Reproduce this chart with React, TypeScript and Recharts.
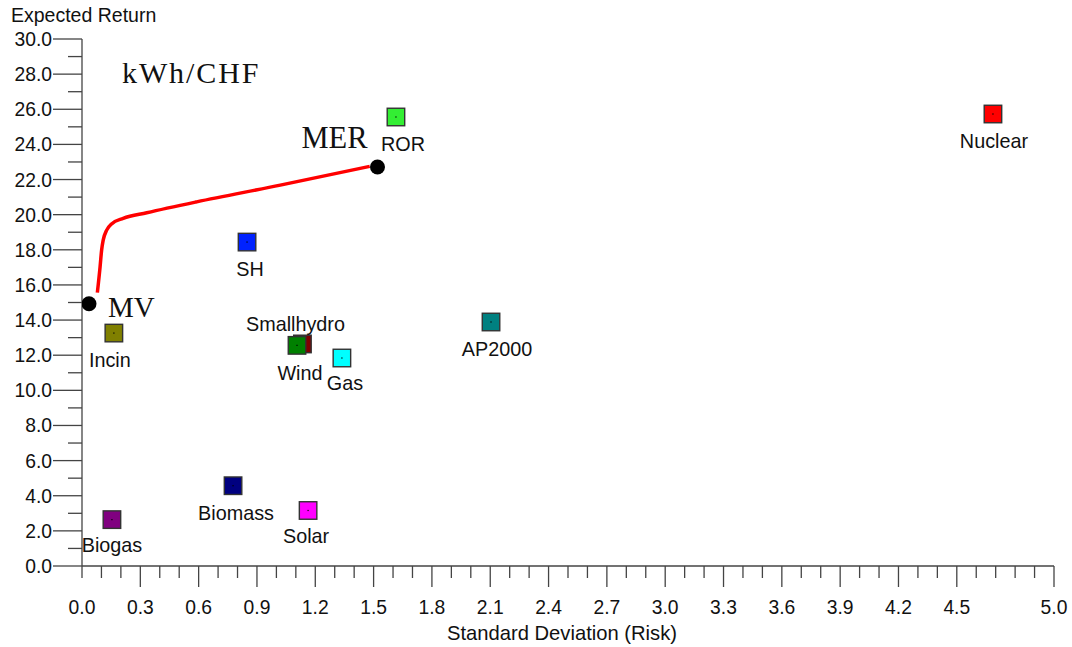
import { Scatter, ScatterChart, XAxis, YAxis } from "recharts"

// Technologies (Smallhydro listed before Wind so it sits behind it)
const assets = ["Smallhydro", "Wind", "ROR", "Nuclear", "AP2000", "SH", "Incin", "Gas", "Biomass", "Solar", "Biogas"]
const assetRisk = [1.134, 1.106, 1.615, 4.686, 2.104, 0.849, 0.164, 1.337, 0.777, 1.163, 0.154]
const assetReturn = [12.64, 12.56, 25.56, 25.73, 13.89, 18.44, 13.26, 11.84, 4.57, 3.16, 2.64]
const assetColors = ["#800000", "#008000", "#33ee33", "#ff0000", "#008080", "#0022ff", "#808000", "#00ffff", "#000080", "#ff00ff", "#800080"]

// Efficient frontier
const frontierRisk = [0.079, 0.093, 0.101, 0.109, 0.127, 0.152, 0.212, 0.333, 0.59, 1.02, 1.48]
const frontierReturn = [15.56, 17.03, 17.99, 18.55, 19.12, 19.47, 19.79, 20.11, 20.73, 21.68, 22.75]

// Minimum variance / maximum expected return portfolios
const portfolios = ["MV", "MER"]
const portfolioRisk = [0.036, 1.52]
const portfolioReturn = [14.93, 22.71]

const xTickLabels = ["0.0", "0.3", "0.6", "0.9", "1.2", "1.5", "1.8", "2.1", "2.4", "2.7", "3.0", "3.3", "3.6", "3.9", "4.2", "4.5", "5.0"]
const yTickLabels = ["0.0", "2.0", "4.0", "6.0", "8.0", "10.0", "12.0", "14.0", "16.0", "18.0", "20.0", "22.0", "24.0", "26.0", "28.0", "30.0"]

const assetData = assets.map((name, i) => ({ name, x: assetRisk[i], y: assetReturn[i], color: assetColors[i] }))
const frontierData = frontierRisk.map((x, i) => ({ x, y: frontierReturn[i] }))
const portfolioData = portfolios.map((name, i) => ({ name, x: portfolioRisk[i], y: portfolioReturn[i] }))

// minor ticks every 0.1 on x, every 1 on y
const xTicks = Array.from({ length: 51 }, (_, i) => i / 10)
const yTicks = Array.from({ length: 31 }, (_, i) => i)

const SANS = "'Liberation Sans', Arial, sans-serif"
const SERIF = "'Liberation Serif', 'Times New Roman', serif"
const AXIS = "#444"

// label nudges so text sits like in the original
const labelShift: Record<string, [number, number]> = {
  Smallhydro: [-7, -13],
  ROR: [7, 34],
  Nuclear: [1, 34],
  AP2000: [6, 34],
  SH: [3, 34],
  Incin: [-4, 34],
  Wind: [3, 35],
  Gas: [3, 32],
  Biomass: [3, 34],
  Solar: [-2, 33],
  Biogas: [0, 32],
}

const XTick = (props) => {
  const { x, y, payload } = props
  const label = Number(payload.value).toFixed(1)
  const major = xTickLabels.includes(label)
  const len = major && payload.value > 0 ? 21 : 12
  return (
    <g>
      <line x1={x} x2={x} y1={y} y2={y + len} stroke={AXIS} strokeWidth={1.3} />
      {major && (
        <text x={x} y={y + 48} textAnchor="middle" fontSize={19.3} fontFamily={SANS} fill="#111">
          {label}
        </text>
      )}
    </g>
  )
}

const YTick = (props) => {
  const { x, y, payload } = props
  const label = Number(payload.value).toFixed(1)
  const major = yTickLabels.includes(label)
  const len = major ? 29 : 14
  return (
    <g>
      <line x1={x - len} x2={x} y1={y} y2={y} stroke={AXIS} strokeWidth={1.3} />
      {major && (
        <text x={x - 30} y={y + 7} textAnchor="end" fontSize={19.3} fontFamily={SANS} fill="#111">
          {label}
        </text>
      )}
    </g>
  )
}

const AssetShape = (props) => {
  const { cx, cy, payload } = props
  const s = 17.5
  const [dx, dy] = labelShift[payload.name] || [0, 34]
  return (
    <g>
      <rect x={cx - s / 2} y={cy - s / 2} width={s} height={s} fill={payload.color} stroke="#333" strokeWidth={1.4} />
      <rect x={cx - 0.6} y={cy - 0.6} width={1.2} height={1.2} fill="#000" />
      <text x={cx + dx} y={cy + dy} textAnchor="middle" fontSize={19.8} fontFamily={SANS} fill="#111">
        {payload.name}
      </text>
    </g>
  )
}

const PortfolioShape = (props) => {
  const { cx, cy, payload } = props
  const isMV = payload.name === "MV"
  return (
    <g>
      <circle cx={cx} cy={cy} r={7.5} fill="#000" />
      <text
        x={isMV ? cx + 19 : cx - 10}
        y={isMV ? cy + 13 : cy - 19}
        textAnchor={isMV ? "start" : "end"}
        fontSize={isMV ? 29 : 30.5}
        fontFamily={SERIF}
        fill="#111"
      >
        {payload.name}
      </text>
    </g>
  )
}

export default function App() {
  return (
    <div style={{ position: "absolute", left: 0, top: 0, width: 1072, height: 647, background: "#fff" }}>
      <ScatterChart width={1072} height={647} margin={{ top: 39, right: 18, bottom: 0, left: 0 }}>
        <XAxis
          type="number"
          dataKey="x"
          domain={[0, 5]}
          ticks={xTicks}
          interval={0}
          height={81}
          tickSize={0}
          tickMargin={0}
          tickLine={false}
          tick={<XTick />}
          axisLine={{ stroke: AXIS, strokeWidth: 1.3 }}
          allowDataOverflow
        />
        <YAxis
          type="number"
          dataKey="y"
          domain={[0, 30]}
          ticks={yTicks}
          interval={0}
          width={82}
          tickSize={0}
          tickMargin={0}
          tickLine={false}
          tick={<YTick />}
          axisLine={{ stroke: AXIS, strokeWidth: 1.3 }}
          allowDataOverflow
        />
        <Scatter
          data={frontierData}
          line={{ stroke: "#ff0000", strokeWidth: 3.5 }}
          lineJointType="monotoneX"
          shape={() => <g />}
          isAnimationActive={false}
        />
        <Scatter data={assetData} shape={AssetShape} isAnimationActive={false} />
        <Scatter data={portfolioData} shape={PortfolioShape} isAnimationActive={false} />
        <text x={11} y={22} fontSize={19.5} fontFamily={SANS} fill="#111">
          Expected Return
        </text>
        <text x={562} y={640} textAnchor="middle" fontSize={20.2} fontFamily={SANS} fill="#111">
          Standard Deviation (Risk)
        </text>
        <text x={122} y={83} fontSize={30} fontFamily={SERIF} letterSpacing={1.9} fill="#111">
          kWh/CHF
        </text>
      </ScatterChart>
    </div>
  )
}
